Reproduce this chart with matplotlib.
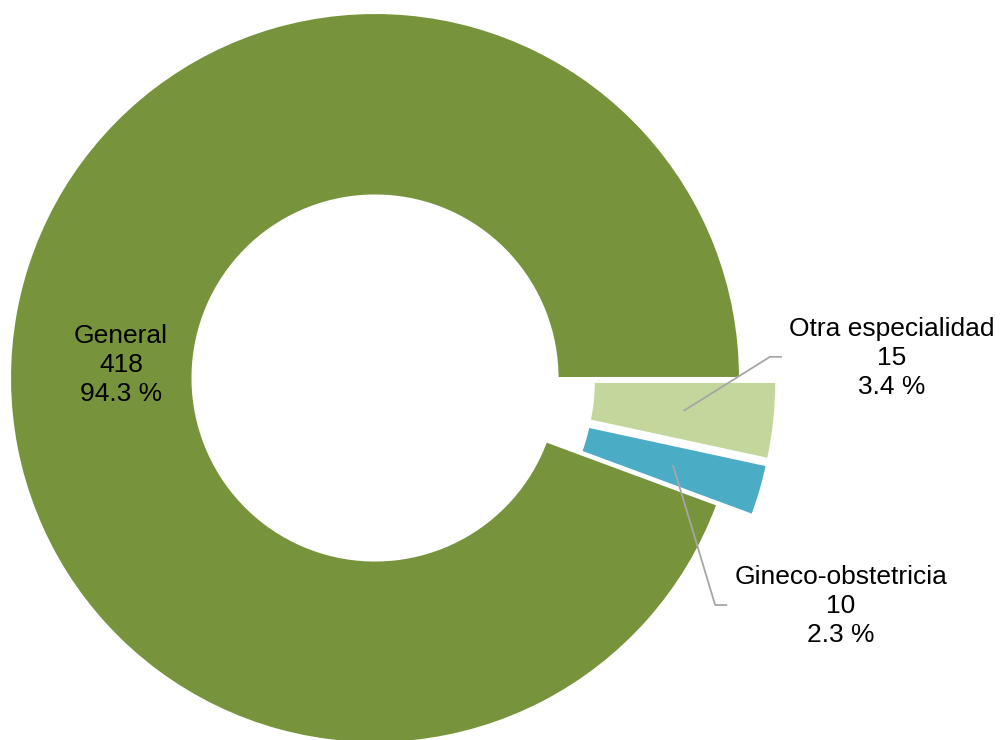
import matplotlib.pyplot as plt
import numpy as np

plt.rcParams['font.family'] = ['Liberation Sans', 'DejaVu Sans']

# data
labels = ["General", "Gineco-obstetricia", "Otra especialidad"]
counts = [418, 10, 15]
percents = [94.3, 2.3, 3.4]
colors = ["#77933C", "#4BACC6", "#C3D69B"]
explode = [0.0, 0.1, 0.1]

fig = plt.figure(figsize=(10, 7.4), dpi=100)
ax = fig.add_axes([0, 0, 1, 1])

wedges, _ = ax.pie(
    counts,
    colors=colors,
    explode=explode,
    startangle=0,
    counterclock=True,
    radius=1.0,
    wedgeprops=dict(width=0.5, edgecolor="white", linewidth=1.5),
)

# map the pie so the center sits at (375, 378) px with a 365 px radius
scale = 365.0
ax.set_xlim(-375 / scale, (1000 - 375) / scale)
ax.set_ylim(-(740 - 378) / scale, 378 / scale)
ax.set_aspect("equal")
ax.axis("off")


def label_text(i):
    return f"{labels[i]}\n{counts[i]}\n{percents[i]} %"


# General label sits inside the ring
ax.text(-0.696, 0.036, label_text(0), ha="center", va="center",
        fontsize=19, linespacing=1.28, multialignment="center")

# outside labels with leader lines
outside = {1: (1.277, -0.625, 0.932, -0.622), 2: (1.416, 0.055, 1.082, 0.058)}
for i, (tx, ty, kx, ky) in outside.items():
    w = wedges[i]
    mid = np.deg2rad((w.theta1 + w.theta2) / 2)
    ax_, ay_ = 0.85 * np.cos(mid), 0.85 * np.sin(mid)
    ax.plot([ax_, kx, kx + 0.033], [ay_, ky, ky], color="#A6A6A6", lw=1.3,
            solid_capstyle="butt")
    ax.text(tx, ty, label_text(i), ha="center", va="center",
            fontsize=19, linespacing=1.28, multialignment="center")

fig.savefig("out.png", dpi=100)
